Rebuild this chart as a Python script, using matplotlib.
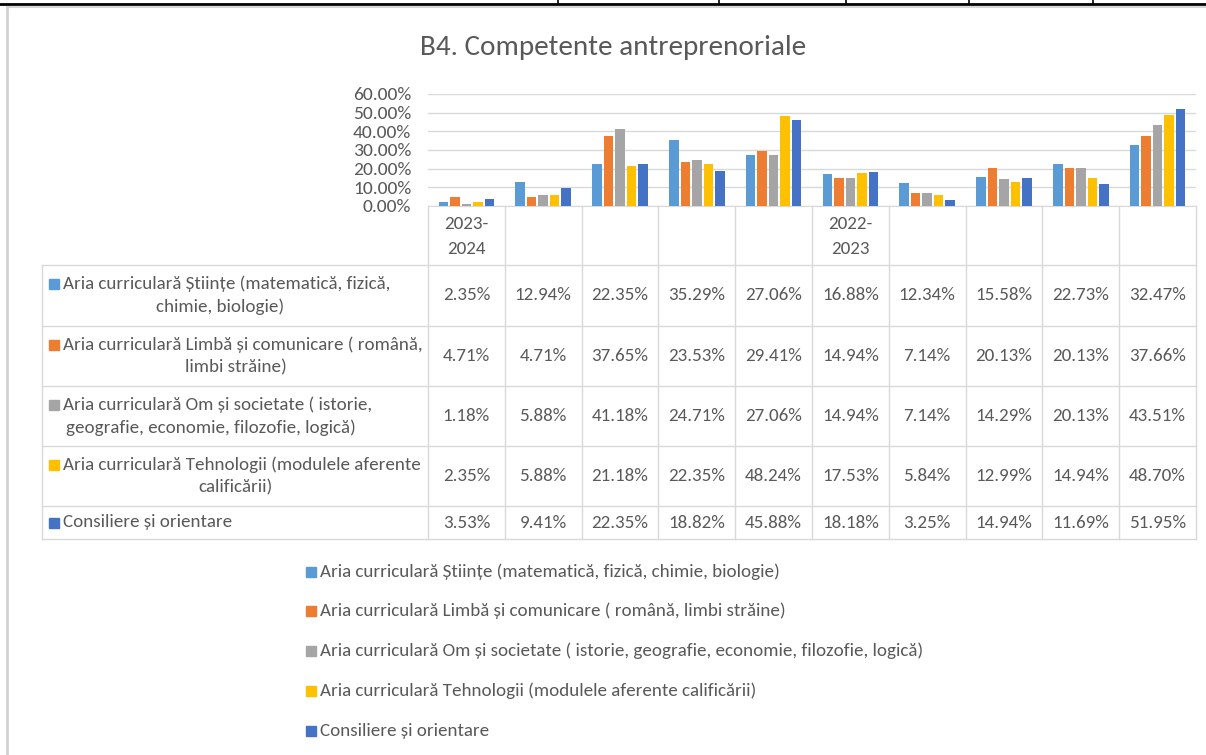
import matplotlib
matplotlib.use("Agg")
import matplotlib.pyplot as plt
import numpy as np

plt.rcParams['font.family'] = ['Carlito', 'Liberation Sans Narrow', 'DejaVu Sans']

title = "B4. Competente antreprenoriale"
categories = ["2023-\n2024", "", "", "", "", "2022-\n2023", "", "", "", ""]
series_names = [
    "Aria curriculară Științe (matematică, fizică, chimie, biologie)",
    "Aria curriculară Limbă și comunicare ( română, limbi străine)",
    "Aria curriculară Om și societate ( istorie, geografie, economie, filozofie, logică)",
    "Aria curriculară Tehnologii (modulele aferente calificării)",
    "Consiliere și orientare",
]
# wrapped version used in the data table
table_names = [
    ["Aria curriculară Științe (matematică, fizică,", "chimie, biologie)"],
    ["Aria curriculară Limbă și comunicare ( română,", "limbi străine)"],
    ["Aria curriculară Om și societate ( istorie,", "geografie, economie, filozofie, logică)"],
    ["Aria curriculară Tehnologii (modulele aferente", "calificării)"],
    ["Consiliere și orientare"],
]
stiinte = [2.35, 12.94, 22.35, 35.29, 27.06, 16.88, 12.34, 15.58, 22.73, 32.47]
limba = [4.71, 4.71, 37.65, 23.53, 29.41, 14.94, 7.14, 20.13, 20.13, 37.66]
om_societate = [1.18, 5.88, 41.18, 24.71, 27.06, 14.94, 7.14, 14.29, 20.13, 43.51]
tehnologii = [2.35, 5.88, 21.18, 22.35, 48.24, 17.53, 5.84, 12.99, 14.94, 48.70]
consiliere = [3.53, 9.41, 22.35, 18.82, 45.88, 18.18, 3.25, 14.94, 11.69, 51.95]
values = [stiinte, limba, om_societate, tehnologii, consiliere]
colors = ['#5B9BD5', '#ED7D31', '#A5A5A5', '#FFC000', '#4472C4']

W, H = 1206, 755
txt = '#595959'
grid = '#D9D9D9'
fs = 13.7

fig = plt.figure(figsize=(W / 100, H / 100), dpi=100)

# overlay in pixel coordinates for frame, table and legend
ov = fig.add_axes([0, 0, 1, 1])
ov.set_xlim(0, W)
ov.set_ylim(H, 0)
ov.axis('off')

# bar chart area
px_l, px_r, px_top, px_bot = 428, 1196, 94, 206
ax = fig.add_axes([px_l / W, (H - px_bot) / H, (px_r - px_l) / W, (px_bot - px_top) / H])
x = np.arange(len(categories))
for i, (vals, c) in enumerate(zip(values, colors)):
    ax.bar(x + (i - 2) * 0.15, np.array(vals) / 100, width=0.124, color=c, zorder=3)
ax.set_xlim(-0.5, len(categories) - 0.5)
ax.set_ylim(0, 0.6)
ax.set_yticks(np.arange(0, 0.61, 0.1))
ax.set_yticklabels([f"{t * 100:.2f}%" for t in np.arange(0, 0.61, 0.1)], color=txt, fontsize=14)
ax.tick_params(axis='y', length=0, pad=12)
ax.set_xticks([])
ax.grid(axis='y', color=grid, lw=1, zorder=0)
for s in ['top', 'left', 'right']:
    ax.spines[s].set_visible(False)
ax.spines['bottom'].set_color(grid)
ax.set_facecolor('none')

ov.text(613, 47, title, ha='center', va='center', fontsize=21, color=txt)

# page frame
ov.plot([0, W], [4, 4], color='black', lw=2)
for xt in [558, 719, 846, 969, 1093]:
    ov.plot([xt, xt], [0, 4], color='black', lw=1.2)
ov.plot([7, W], [7, 7], color='#D6D6D6', lw=1.5)
ov.plot([7, 7], [7, H], color='#D0D0D0', lw=2)

# data table
ncat = len(categories)
colw = (px_r - px_l) / ncat
row_y = [265, 326, 386, 446, 506, 539]
tab_l = 42
for k in range(ncat + 1):
    xb = px_l + k * colw
    ov.plot([xb, xb], [px_bot, row_y[-1]], color=grid, lw=1)
for yy in row_y:
    ov.plot([tab_l, px_r], [yy, yy], color=grid, lw=1)
ov.plot([tab_l, tab_l], [row_y[0], row_y[-1]], color=grid, lw=1)

for k, lab in enumerate(categories):
    if lab:
        ov.text(px_l + (k + 0.5) * colw, (px_bot + row_y[0]) / 2 + 1, lab, ha='center',
                va='center', fontsize=fs, color=txt, linespacing=1.75)

fig.canvas.draw()
r = fig.canvas.get_renderer()
inv = ov.transData.inverted()
for j in range(len(values)):
    yc = (row_y[j] + row_y[j + 1]) / 2
    lines = table_names[j]
    if len(lines) == 1:
        ov.plot(54, yc, marker='s', ms=6.5, color=colors[j], ls='none')
        ov.text(63, yc, lines[0], ha='left', va='center', fontsize=fs, color=txt)
    else:
        y1, y2 = yc - 11.5, yc + 11.5
        ov.plot(54, y1, marker='s', ms=6.5, color=colors[j], ls='none')
        t1 = ov.text(63, y1, lines[0], ha='left', va='center', fontsize=fs, color=txt)
        bb = t1.get_window_extent(r)
        x_end = inv.transform((bb.x1, bb.y0))[0]
        ov.text((50 + x_end) / 2, y2, lines[1], ha='center', va='center', fontsize=fs, color=txt)
    for k, v in enumerate(values[j]):
        ov.text(px_l + (k + 0.5) * colw, yc, f"{v:.2f}%", ha='center', va='center',
                fontsize=fs, color=txt)

# legend
leg_y = [572, 611, 651, 691, 731]
for j, name in enumerate(series_names):
    ov.plot(311, leg_y[j], marker='s', ms=6.5, color=colors[j], ls='none')
    ov.text(320, leg_y[j], name, ha='left', va='center', fontsize=fs, color=txt)

fig.savefig("out.png", dpi=100)
